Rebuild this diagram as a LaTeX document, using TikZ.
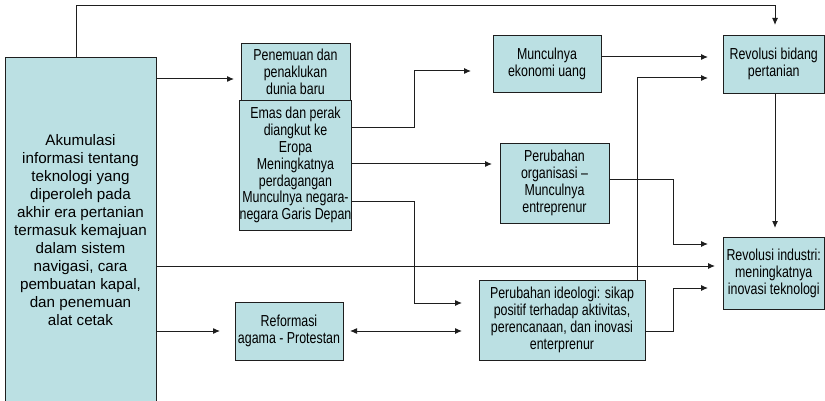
\documentclass[tikz,border=0pt]{standalone}
\usepackage{fontspec}
\setmainfont{Liberation Sans}
\newfontfamily\condfont[FakeStretch=0.78,Ligatures=TeX]{Liberation Sans}
\usetikzlibrary{arrows.meta,calc}
\definecolor{boxfill}{RGB}{187,224,227}
\definecolor{linecol}{RGB}{30,30,30}
\tikzset{
  box/.style={draw=linecol, line width=0.8pt, fill=boxfill, inner sep=0pt, align=center,
    font=\condfont\fontsize{15.9}{16.9}\selectfont},
  bigbox/.style={box, font=\fontsize{15.2}{18}\selectfont},
  conn/.style={draw=linecol, line width=1pt},
  arr/.style={conn, -{Latex[length=7pt,width=6pt]}},
  darr/.style={conn, {Latex[length=7pt,width=6pt]}-{Latex[length=7pt,width=6pt]}},
}
\begin{document}
\begin{tikzpicture}[x=1pt,y=-1pt]
\useasboundingbox (0,0) rectangle (825,401);

% boxes
\node[bigbox, minimum width=151pt, minimum height=347pt] (L) at (80.5,230.5)
  {Akumulasi\\informasi tentang\\teknologi yang\\diperoleh pada\\akhir era pertanian\\termasuk kemajuan\\dalam sistem\\navigasi, cara\\pembuatan kapal,\\dan penemuan\\alat cetak};
\node[box, minimum width=109pt, minimum height=57pt] (P1) at (295.5,71.5)
  {Penemuan dan\\penaklukan\\dunia baru};
\node[box, minimum width=109pt, minimum height=130pt] (P2) at (295.5,165)
  {Emas dan perak\\diangkut ke\\Eropa\\Meningkatnya\\perdagangan\\Munculnya negara-\\negara Garis Depan};
\node[box, minimum width=108pt, minimum height=57pt] (E) at (547,63.5)
  {Munculnya\\ekonomi uang};
\node[box, minimum width=109pt, minimum height=80pt] (O) at (554.5,183)
  {Perubahan\\organisasi –\\Munculnya\\entreprenur};
\node[box, minimum width=101.5pt, minimum height=58pt] (RB) at (773.75,64)
  {Revolusi bidang\\pertanian};
\node[box, minimum width=101.5pt, minimum height=72pt] (RI) at (773.75,273)
  {Revolusi industri:\\meningkatnya\\inovasi teknologi};
\node[box, minimum width=166pt, minimum height=80pt] (PI) at (562,320)
  {Perubahan ideologi: sikap\\positif terhadap aktivitas,\\perencanaan, dan inovasi\\enterprenur};
\node[box, minimum width=108pt, minimum height=58pt] (R) at (289,331)
  {Reformasi\\agama - Protestan};

% arrow tips (free ends)
\coordinate (t1) at (775,25);
\coordinate (t2) at (234,79);
\coordinate (t3) at (471,71);
\coordinate (t4) at (708,57);
\coordinate (t5) at (708,78);
\coordinate (t6) at (492,164);
\coordinate (t7) at (708,244);
\coordinate (t8) at (775,228);
\coordinate (t9) at (462,303);
\coordinate (t10) at (715,266);
\coordinate (t11) at (220,331);
\coordinate (t12a) at (350,331);
\coordinate (t12b) at (462,331);
\coordinate (t13) at (708,288);

% connectors
\draw[arr] ([xshift=72pt]L.north west) |- (0,6 -| t1) -- (t1);
\draw[arr] (L.east |- t2) -- (t2);
\draw[arr] (P2.east |- 0,128) -| (414,71) -- (t3);
\draw[arr] (E.east |- t4) -- (t4);
\draw[arr] (PI.north -| 637,0) |- (t5);
\draw[arr] (P2.east |- t6) -- (t6);
\draw[arr] (O.east |- 0,180) -| (673,244) -- (t7);
\draw[arr] (RB.south -| t8) -- (t8);
\draw[arr] (P2.east |- 0,201) -| (414,303) -- (t9);
\draw[arr] (L.east |- t10) -- (t10);
\draw[arr] (L.east |- t11) -- (t11);
\draw[darr] (t12a) -- (t12b);
\draw[arr] (PI.east |- 0,331) -| (673,288) -- (t13);
\end{tikzpicture}
\end{document}
